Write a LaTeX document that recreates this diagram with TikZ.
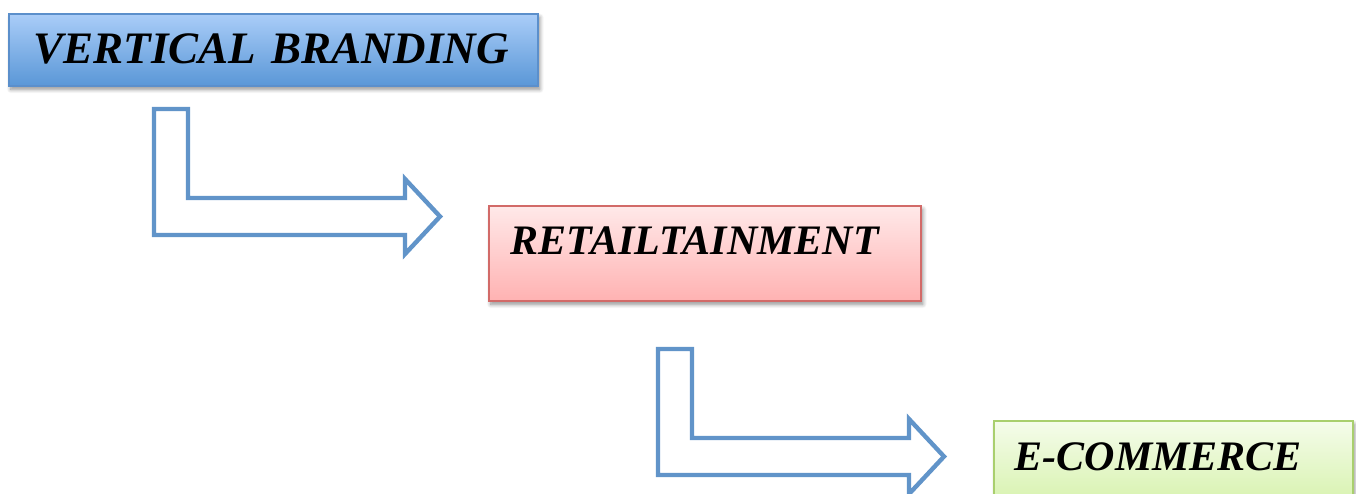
\documentclass[tikz,border=0pt]{standalone}
\usepackage{fontspec}
\setmainfont{Liberation Serif}
\usetikzlibrary{shadows.blur}

\definecolor{arrowblue}{HTML}{6194C9}
\definecolor{blueTop}{HTML}{AACDF8}
\definecolor{blueBot}{HTML}{5A97D7}
\definecolor{blueLine}{HTML}{5B8FCB}
\definecolor{pinkTop}{HTML}{FFE9E9}
\definecolor{pinkBot}{HTML}{FFB2B2}
\definecolor{pinkLine}{HTML}{D26A68}
\definecolor{greenTop}{HTML}{F5FCEB}
\definecolor{greenBot}{HTML}{D9F3B2}
\definecolor{greenLine}{HTML}{A9CF6E}

\tikzset{
  stagebox/.style={
    draw, line width=1.6pt, anchor=north west, inner sep=0pt, align=left,
    font=\bfseries\itshape,
    blur shadow={shadow xshift=2pt, shadow yshift=-3.5pt,
                 shadow blur radius=4pt, shadow blur steps=8, shadow opacity=45}
  },
  bluebox/.style={stagebox, draw=blueLine, top color=blueTop, bottom color=blueBot},
  pinkbox/.style={stagebox, draw=pinkLine, top color=pinkTop, bottom color=pinkBot},
  greenbox/.style={stagebox, draw=greenLine, top color=greenTop, bottom color=greenBot},
  bentoutline/.style={draw=arrowblue, line width=4.4pt, line join=miter, fill=white},
  pics/bentarrow/.style={
    code={
      \draw[bentoutline] (0,0) -- (34,0) -- (34,89) -- (251,89) -- (251,70)
        -- (286,107.5) -- (251,145) -- (251,126) -- (0,126) -- cycle;
    }
  }
}

\begin{document}
\begin{tikzpicture}[x=1pt, y=-1pt]
  \useasboundingbox (0,0) rectangle (1356,493);

  % stage boxes
  \node[bluebox, text width=529pt, text height=50pt, text depth=22pt,
        font=\fontsize{45}{50}\selectfont\bfseries\itshape]
    (vb) at (8,13) {\hspace*{25pt}VERTICAL BRANDING};
  \node[pinkbox, text width=432pt, text height=49pt, text depth=46pt,
        font=\fontsize{42}{48}\selectfont\bfseries\itshape]
    (rt) at (488,205) {\hspace*{22pt}RETAILTAINMENT};
  \node[greenbox, text width=359pt, text height=50pt, text depth=28pt,
        font=\fontsize{42}{48}\selectfont\bfseries\itshape]
    (ec) at (993,420) {\hspace*{21pt}E-COMMERCE};

  % bent block arrows between the stages
  \pic at (154,109) {bentarrow};
  \pic at (658,349) {bentarrow};
\end{tikzpicture}
\end{document}
